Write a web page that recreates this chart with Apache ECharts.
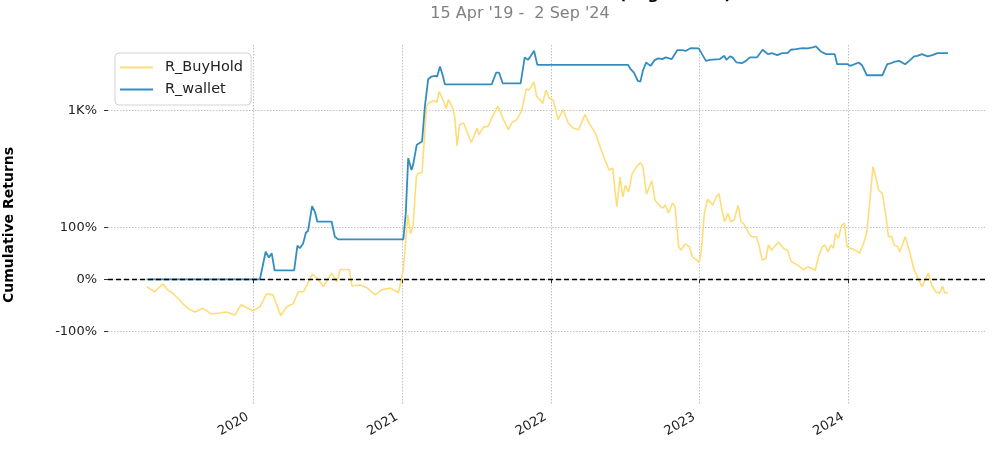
<!DOCTYPE html>
<html><head><meta charset="utf-8">
<script src="https://cdn.jsdelivr.net/npm/echarts@6/dist/echarts.min.js"></script>
<style>html,body{margin:0;padding:0;background:#fff}#c{width:1000px;height:455px}</style>
</head><body><div id="c"></div>
<script>
const buyHoldDates = ['2019-04-15','2019-05-04','2019-05-25','2019-06-06','2019-06-18','2019-07-01','2019-07-13','2019-07-25','2019-08-11','2019-08-31','2019-09-21','2019-10-11','2019-10-27','2019-11-17','2019-12-03',
'2020-01-01','2020-01-18','2020-02-03','2020-02-19','2020-03-09','2020-03-24','2020-04-09','2020-04-21','2020-05-04','2020-05-26','2020-06-06','2020-06-22','2020-07-12','2020-07-25','2020-08-02','2020-08-24','2020-08-31','2020-09-20','2020-10-06','2020-10-27','2020-11-12','2020-12-03','2020-12-23',
'2021-01-04','2021-01-15','2021-01-22','2021-01-28','2021-02-05','2021-02-09','2021-02-19','2021-03-02','2021-03-08','2021-03-21','2021-03-27','2021-04-02','2021-04-13','2021-04-19','2021-04-25','2021-05-05','2021-05-10','2021-05-16','2021-05-22','2021-06-01','2021-06-09','2021-06-20','2021-07-04','2021-07-09','2021-07-20','2021-07-31','2021-08-13','2021-08-24','2021-09-05','2021-09-19','2021-09-28','2021-10-10','2021-10-21','2021-11-02','2021-11-08','2021-11-12','2021-11-21','2021-11-27','2021-12-03','2021-12-12','2021-12-20','2021-12-28',
'2022-01-07','2022-01-19','2022-01-31','2022-02-13','2022-02-25','2022-03-10','2022-03-26','2022-04-07','2022-04-20','2022-05-02','2022-05-14','2022-05-24','2022-06-02','2022-06-12','2022-06-20','2022-06-27','2022-07-03','2022-07-11','2022-07-20','2022-08-01','2022-08-09','2022-08-15','2022-08-24','2022-09-06','2022-09-14','2022-09-24','2022-10-02','2022-10-09','2022-10-17','2022-10-27','2022-11-02','2022-11-11','2022-11-16','2022-11-27','2022-12-07','2022-12-15','2022-12-27','2022-12-31',
'2023-01-05','2023-01-13','2023-01-21','2023-02-03','2023-02-11','2023-02-18','2023-02-26','2023-03-04','2023-03-12','2023-03-19','2023-03-27','2023-04-06','2023-04-13','2023-04-21','2023-05-01','2023-05-09','2023-05-21','2023-05-27','2023-06-04','2023-06-13','2023-06-19','2023-06-27','2023-07-14','2023-07-26','2023-08-06','2023-08-14','2023-08-28','2023-09-05','2023-09-13','2023-09-24','2023-10-04','2023-10-12','2023-10-20','2023-10-30','2023-11-05','2023-11-12','2023-11-20','2023-11-26','2023-12-01','2023-12-08','2023-12-16','2023-12-23','2023-12-29',
'2024-01-06','2024-01-19','2024-01-29','2024-02-08','2024-02-16','2024-02-25','2024-03-02','2024-03-08','2024-03-16','2024-03-25','2024-04-02','2024-04-09','2024-04-17','2024-04-23','2024-05-01','2024-05-07','2024-05-20','2024-05-30','2024-06-11','2024-06-19','2024-06-30','2024-07-08','2024-07-16','2024-07-24','2024-08-03','2024-08-13','2024-08-20','2024-08-25','2024-09-02'];
const buyHoldPct = [-14,-24,-9,-21,-27,-37,-47,-56,-63,-56,-67,-65,-63,-69,-49,
-61,-53,-28,-30,-70,-53,-47,-24,-24,10,2,-14,12,-5,19,19,-13,-11,-16,-30,-20,-17,-26,
18,124,88,104,197,211,214,1105,1202,1272,1202,1580,1250,1043,1305,1062,862,416,701,731,594,452,646,547,662,672,898,1105,828,619,742,794,976,1702,1631,1745,2005,1416,1327,1181,1644,1361,
1272,794,1018,731,646,619,898,701,575,409,294,229,239,140,197,159,181,168,211,253,275,249,164,190,152,143,137,143,128,147,140,63,56,68,63,43,36,32,
50,127,154,143,159,165,130,111,127,111,114,143,111,106,90,82,82,66,37,40,66,56,72,60,55,34,28,24,18,24,21,17,43,63,66,53,66,60,88,79,104,108,63,
60,56,50,69,92,165,249,200,172,165,127,82,83,66,63,53,82,56,18,5,-14,-1,12,-11,-24,-27,-13,-26,-26];

const walletDates = ['2019-04-15','2020-01-18','2020-02-01','2020-02-09','2020-02-16','2020-02-23','2020-04-11','2020-04-19','2020-04-25','2020-05-03','2020-05-10','2020-05-15','2020-05-25','2020-06-01','2020-06-07','2020-07-12','2020-07-20','2020-07-28',
'2021-01-04','2021-01-10','2021-01-16','2021-01-24','2021-01-28','2021-02-06','2021-02-19','2021-02-26','2021-03-06','2021-03-14','2021-03-23','2021-03-28','2021-04-04','2021-04-10','2021-04-16','2021-08-09','2021-08-20','2021-08-27','2021-09-05','2021-10-19','2021-10-29','2021-11-06','2021-11-12','2021-11-21','2021-11-29',
'2022-07-10','2022-07-15','2022-07-24','2022-08-03','2022-08-09','2022-08-15','2022-08-23','2022-09-03','2022-09-13','2022-09-22','2022-10-02','2022-10-10','2022-10-25','2022-11-08','2022-11-19','2022-11-29','2022-12-11','2022-12-30',
'2023-01-01','2023-01-17','2023-01-26','2023-02-20','2023-03-03','2023-03-08','2023-03-17','2023-03-23','2023-04-02','2023-04-15','2023-04-25','2023-05-05','2023-05-22','2023-06-05','2023-06-18','2023-06-28','2023-07-11','2023-07-23','2023-08-05','2023-08-13','2023-08-26','2023-09-11','2023-09-24','2023-10-06','2023-10-14','2023-10-27','2023-11-08','2023-11-29','2023-12-05','2023-12-31',
'2024-01-06','2024-01-27','2024-02-04','2024-02-16','2024-03-25','2024-04-06','2024-04-14','2024-04-23','2024-05-05','2024-05-20','2024-05-30','2024-06-11','2024-06-19','2024-06-30','2024-07-14','2024-07-26','2024-08-07','2024-09-02'];
const walletPct = [0,0,53,42,50,17,17,65,60,69,90,93,141,130,111,111,82,77,
77,127,307,229,260,427,463,1105,2144,2294,2328,2294,2939,2428,1894,1894,2532,2532,1941,1941,3676,3462,3768,4330,3058,
3058,2796,2532,2056,2025,2635,3246,2984,3438,3586,3528,3676,3528,4406,4406,4330,4630,4596,
4440,3378,3462,3528,3825,3462,3768,3676,3246,3190,3378,3676,3676,4440,3990,4090,3891,4090,4090,4440,4518,4630,4596,4712,4830,4224,3990,3990,3112,3112,
2984,3246,3036,2368,2368,3112,3166,3296,3378,3112,3378,3768,3825,3990,3768,3891,4090,4090];

const yTickPct = [-100, 0, 100, 1000];
const yTickLabels = ['-100%', '0%', '100%', '1K%'];
const xTickYears = ['2020', '2021', '2022', '2023', '2024'];
const seriesNames = ['R_BuyHold', 'R_wallet'];
const titleText = 'Cumulative Returns vs Benchmark (Log Scaled)';
const subTitleText = "15 Apr '19 -  2 Sep '24";
const yAxisName = 'Cumulative Returns';

// matplotlib-style symlog (linthresh=2, linscale=1, base 10) on fractional returns
function symlog(pct) {
  const v = pct / 100, t = 2, ls = 1 / (1 - 1 / 10);
  const a = Math.abs(v);
  if (a <= t) return v * ls;
  return Math.sign(v) * t * (ls + Math.log10(a / t));
}
function ts(s) { const p = s.split('-').map(Number); return new Date(p[0], p[1] - 1, p[2]).getTime(); }
const yTickVals = yTickPct.map(symlog);
const xTickVals = xTickYears.map(y => ts(y + '-01-01'));

const font = 'DejaVu Sans';
const chart = echarts.init(document.getElementById('c'));
chart.setOption({
  animation: false,
  backgroundColor: '#ffffff',
  title: [
    { text: titleText, left: 512, top: -18, textAlign: 'center',
      textStyle: { fontFamily: font, fontSize: 16, fontWeight: 'bold', color: '#000' } },
    { text: subTitleText, left: 515, top: 1, textAlign: 'center',
      textStyle: { fontFamily: font, fontSize: 16, fontWeight: 'normal', color: '#808080' } }
  ],
  legend: {
    orient: 'vertical', left: 115, top: 53,
    padding: [7, 8, 8, 5], itemGap: 7,
    itemWidth: 33, itemHeight: 2, icon: 'rect',
    borderColor: '#d4d4d4', borderWidth: 1, borderRadius: 4,
    textStyle: { fontFamily: font, fontSize: 14.5, color: '#222', padding: [0, 0, 0, 7] },
    data: seriesNames
  },
  grid: { left: 108, right: 15, top: 45, bottom: 50, containLabel: false, outerBoundsMode: 'none' },
  xAxis: {
    type: 'value',
    min: ts('2019-01-10'), max: ts('2024-12-02'),
    axisLine: { show: false },
    axisTick: { show: true, length: 4, lineStyle: { color: '#333' }, customValues: xTickVals },
    axisLabel: {
      customValues: xTickVals, rotate: 30, margin: 8, padding: [0, 6, 0, 0],
      fontFamily: font, fontSize: 13, color: '#222',
      formatter: v => { const i = xTickVals.findIndex(t => Math.abs(t - v) < 864e5); return i >= 0 ? xTickYears[i] : ''; }
    },
    splitLine: { show: true, lineStyle: { color: '#b0b0b0', type: [1.5, 1.5], width: 0.8 } }
  },
  yAxis: {
    type: 'value',
    min: -2.692, max: 5.017,
    name: yAxisName, nameLocation: 'middle', nameGap: 92,
    nameTextStyle: { fontFamily: font, fontSize: 14, fontWeight: 'bold', color: '#000' },
    axisLine: { show: false },
    axisTick: { show: true, length: 4, lineStyle: { color: '#333' }, customValues: yTickVals },
    axisLabel: {
      customValues: yTickVals, margin: 11,
      fontFamily: font, fontSize: 13, color: '#222',
      formatter: v => { const i = yTickVals.findIndex(t => Math.abs(t - v) < 1e-6); return i >= 0 ? yTickLabels[i] : ''; }
    },
    splitLine: { show: true, lineStyle: { color: '#b0b0b0', type: [1.5, 1.5], width: 0.8 } }
  },
  series: [
    {
      name: seriesNames[0], type: 'line', showSymbol: false, symbol: 'none',
      lineStyle: { color: '#FEDD78', width: 1.6 }, itemStyle: { color: '#FEDD78' },
      data: buyHoldDates.map((d, i) => [ts(d), symlog(buyHoldPct[i])]), z: 2
    },
    {
      name: seriesNames[1], type: 'line', showSymbol: false, symbol: 'none',
      lineStyle: { color: '#348DC1', width: 1.8 }, itemStyle: { color: '#348DC1' },
      data: walletDates.map((d, i) => [ts(d), symlog(walletPct[i])]), z: 3,
      markLine: {
        silent: true, symbol: ['none', 'none'], label: { show: false },
        lineStyle: { color: '#000', type: [5, 3], width: 1.4 },
        data: [{ yAxis: 0 }], z: 5
      }
    }
  ]
});
</script></body></html>
